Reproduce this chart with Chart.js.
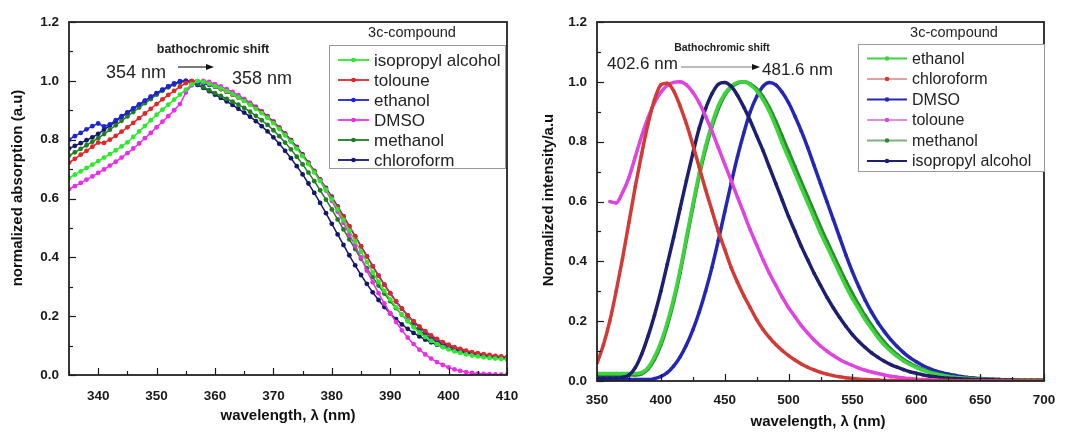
<!DOCTYPE html>
<html><head><meta charset="utf-8">
<script src="https://cdn.jsdelivr.net/npm/chart.js@4.4.1/dist/chart.umd.min.js"></script>
<style>
html,body{margin:0;padding:0;background:#fff;}
#wrap{position:relative;width:1070px;height:434px;overflow:hidden;}
.c{position:absolute;top:0;width:535px;height:434px;}
</style></head><body>
<div id="wrap">
<div class="c" style="left:0"><canvas id="absChart" width="535" height="434"></canvas></div>
<div class="c" style="left:535px"><canvas id="emChart" width="535" height="434"></canvas></div>
</div>
<script>
function range(a,b,s){const r=[];for(let i=0;a+i*s<=b+1e-9;i++)r.push(+(a+i*s).toFixed(3));return r;}

// ---------- Left panel: absorption (335–410 nm, 1 nm steps) ----------
const absWavelength = range(335,410,1);
const absIsopropyl = [0.670,0.681,0.692,0.704,0.715,0.727,0.739,0.751,0.764,0.777,0.791,0.809,0.828,0.847,0.866,0.885,0.902,0.919,0.936,0.953,0.970,0.988,0.999,0.996,0.990,0.982,0.974,0.965,0.955,0.944,0.932,0.919,0.905,0.890,0.874,0.856,0.836,0.815,0.793,0.769,0.744,0.717,0.689,0.660,0.630,0.598,0.563,0.527,0.491,0.455,0.419,0.384,0.350,0.317,0.286,0.257,0.230,0.205,0.182,0.162,0.144,0.129,0.116,0.105,0.095,0.087,0.080,0.075,0.070,0.066,0.063,0.060,0.058,0.056,0.054,0.053];
const absToluene = [0.722,0.735,0.749,0.762,0.776,0.790,0.789,0.800,0.813,0.827,0.842,0.857,0.873,0.889,0.905,0.921,0.937,0.952,0.966,0.980,0.992,1.000,0.999,0.995,0.989,0.981,0.972,0.963,0.953,0.943,0.932,0.920,0.907,0.893,0.877,0.859,0.839,0.818,0.796,0.772,0.747,0.720,0.692,0.663,0.633,0.603,0.571,0.538,0.505,0.471,0.437,0.403,0.370,0.338,0.307,0.278,0.251,0.226,0.203,0.183,0.165,0.149,0.135,0.123,0.112,0.103,0.095,0.089,0.083,0.078,0.074,0.071,0.068,0.065,0.063,0.061];
const absEthanol = [0.800,0.812,0.823,0.835,0.846,0.855,0.845,0.852,0.866,0.880,0.893,0.906,0.920,0.933,0.946,0.958,0.970,0.981,0.991,0.998,1.000,0.998,0.995,0.991,0.986,0.980,0.972,0.963,0.954,0.944,0.933,0.921,0.908,0.894,0.878,0.860,0.840,0.820,0.798,0.775,0.750,0.722,0.694,0.665,0.636,0.606,0.573,0.540,0.506,0.472,0.438,0.404,0.370,0.338,0.307,0.278,0.250,0.225,0.202,0.181,0.162,0.146,0.131,0.118,0.107,0.098,0.090,0.083,0.078,0.073,0.069,0.066,0.063,0.060,0.058,0.056];
const absDMSO = [0.632,0.642,0.653,0.664,0.675,0.687,0.699,0.712,0.725,0.739,0.754,0.770,0.787,0.805,0.823,0.842,0.861,0.880,0.900,0.921,0.960,0.985,0.997,1.000,0.996,0.989,0.981,0.972,0.962,0.951,0.939,0.926,0.912,0.897,0.880,0.862,0.842,0.821,0.798,0.774,0.748,0.720,0.691,0.660,0.627,0.592,0.555,0.517,0.478,0.439,0.400,0.355,0.315,0.278,0.243,0.210,0.180,0.152,0.127,0.105,0.086,0.070,0.056,0.044,0.034,0.026,0.019,0.014,0.010,0.007,0.005,0.004,0.003,0.002,0.001,0.001];
const absMethanol = [0.746,0.757,0.769,0.781,0.793,0.805,0.819,0.834,0.849,0.864,0.879,0.894,0.909,0.924,0.938,0.953,0.966,0.978,0.987,0.994,0.999,0.998,0.990,0.979,0.968,0.958,0.949,0.939,0.929,0.919,0.908,0.895,0.881,0.866,0.850,0.832,0.812,0.790,0.767,0.742,0.716,0.688,0.659,0.628,0.596,0.563,0.529,0.495,0.461,0.428,0.395,0.363,0.333,0.304,0.277,0.251,0.227,0.205,0.185,0.167,0.151,0.137,0.124,0.113,0.104,0.096,0.089,0.083,0.078,0.074,0.070,0.067,0.064,0.062,0.060,0.058];
const absChloroform = [0.770,0.779,0.788,0.798,0.808,0.820,0.834,0.848,0.862,0.877,0.891,0.905,0.918,0.932,0.945,0.957,0.969,0.980,0.990,0.998,1.000,0.995,0.986,0.976,0.965,0.953,0.942,0.930,0.918,0.905,0.892,0.878,0.863,0.846,0.828,0.808,0.786,0.762,0.737,0.710,0.682,0.651,0.619,0.585,0.550,0.514,0.478,0.442,0.407,0.373,0.340,0.310,0.281,0.255,0.231,0.209,0.190,0.172,0.157,0.143,0.131,0.120,0.111,0.103,0.096,0.090,0.085,0.080,0.076,0.072,0.069,0.066,0.063,0.060,0.058,0.056];
const absXTicks = {min:335,max:410,step:10};
const absYTicks = {min:0,max:1.2,step:0.2};

// ---------- Right panel: emission (350–700 nm, 5 nm steps) ----------
const emWavelength = range(350,700,5);
const emEthanol = [0.025,0.025,0.025,0.025,0.025,0.025,0.025,0.028,0.045,0.08,0.13,0.195,0.275,0.37,0.48,0.59,0.695,0.785,0.86,0.92,0.96,0.985,0.998,1.0,0.99,0.97,0.94,0.9,0.85,0.795,0.745,0.695,0.645,0.595,0.545,0.495,0.45,0.405,0.36,0.315,0.275,0.24,0.205,0.175,0.145,0.12,0.1,0.082,0.067,0.055,0.045,0.036,0.029,0.024,0.019,0.015,0.012,0.01,0.008,0.007,0.006,0.005,0.005,0.004,0.004,0.004,0.003,0.003,0.003,0.003,0.003];
const emChloroform = [0.06,0.12,0.2,0.3,0.41,0.53,0.65,0.76,0.86,0.94,0.99,0.995,0.97,0.92,0.86,0.79,0.715,0.64,0.57,0.5,0.44,0.38,0.33,0.285,0.245,0.205,0.172,0.145,0.122,0.102,0.085,0.07,0.057,0.046,0.037,0.029,0.023,0.018,0.014,0.011,0.008,0.006,0.005,0.004,0.003,0.002,0.002,0.001,0.001,0.001,0.001,0.001,0.001,0.001,0.001,0.001,0,0,0,0,0,0,0,0,0,0,0,0,0,0,0];
const emDMSO = [0.005,0.005,0.005,0.005,0.005,0.005,0.005,0.005,0.005,0.008,0.015,0.028,0.05,0.08,0.12,0.17,0.23,0.3,0.38,0.47,0.565,0.66,0.75,0.83,0.9,0.95,0.985,0.998,0.99,0.965,0.93,0.885,0.835,0.78,0.72,0.66,0.6,0.54,0.48,0.42,0.365,0.315,0.27,0.23,0.195,0.165,0.138,0.115,0.095,0.078,0.064,0.052,0.042,0.034,0.028,0.023,0.019,0.015,0.012,0.01,0.008,0.007,0.006,0.005,0.004,0.004,0.003,0.003,0.002,0.002,0.002];
const emToluene = [null,null,0.6,0.595,0.63,0.68,0.75,0.82,0.88,0.93,0.965,0.988,0.998,1.0,0.99,0.965,0.93,0.885,0.835,0.78,0.725,0.67,0.615,0.56,0.505,0.455,0.405,0.36,0.32,0.28,0.245,0.215,0.185,0.16,0.137,0.117,0.1,0.085,0.072,0.061,0.052,0.043,0.036,0.03,0.025,0.02,0.016,0.013,0.01,0.008,0.006,0.005,0.004,0.003,0.002,0.002,0.001,0.001,0.001,0.001,0.001,0.001,0.001,0.001,0.001,0.001,0.001,0.001,0.001,0.001,0.001];
const emMethanol = [0.02,0.02,0.02,0.02,0.02,0.02,0.02,0.024,0.04,0.072,0.12,0.185,0.265,0.36,0.47,0.58,0.685,0.775,0.85,0.91,0.955,0.982,0.996,1.0,0.993,0.976,0.95,0.913,0.868,0.818,0.767,0.716,0.665,0.615,0.565,0.515,0.468,0.422,0.377,0.333,0.292,0.254,0.218,0.186,0.156,0.13,0.107,0.088,0.072,0.059,0.048,0.039,0.031,0.025,0.02,0.016,0.013,0.011,0.009,0.008,0.007,0.006,0.005,0.005,0.004,0.004,0.004,0.003,0.003,0.003,0.003];
const emIsopropyl = [0.01,0.01,0.01,0.01,0.012,0.02,0.045,0.09,0.15,0.22,0.3,0.39,0.48,0.575,0.67,0.76,0.845,0.91,0.96,0.992,0.998,0.985,0.955,0.915,0.87,0.82,0.77,0.715,0.66,0.605,0.55,0.5,0.45,0.405,0.36,0.32,0.28,0.245,0.212,0.182,0.155,0.132,0.112,0.094,0.079,0.066,0.055,0.046,0.038,0.031,0.026,0.021,0.017,0.014,0.011,0.009,0.008,0.007,0.006,0.005,0.005,0.004,0.004,0.003,0.003,0.003,0.002,0.002,0.002,0.002,0.002];
const emXTicks = {min:350,max:700,step:50};
const emYTicks = {min:0,max:1.2,step:0.2};

const FONT = '"Liberation Sans", Arial, sans-serif';
const INK = '#1a1a1a';

function xy(xs, ys){ return xs.map((x,i)=>({x:x, y:(ys[i]===undefined?null:ys[i])})); }

function decor(o){
  return {
    id:'decor_'+o.key,
    afterDatasetsDraw(chart){
      const ctx = chart.ctx, a = chart.chartArea, sx = chart.scales.x, sy = chart.scales.y;
      ctx.save();
      // inward ticks
      ctx.strokeStyle = INK; ctx.lineWidth = 1.2;
      for(let v=o.yt.min; v<=o.yt.max+1e-9; v+=o.yt.step/2){
        const k = Math.round(v/(o.yt.step/2));
        const y = Math.round(sy.getPixelForValue(v))+0.5;
        const L = (k%2===0)?7:4;
        ctx.beginPath(); ctx.moveTo(a.left,y); ctx.lineTo(a.left+L,y); ctx.stroke();
      }
      const x0 = Math.ceil(o.xt.min/(o.xt.step/2))*(o.xt.step/2);
      for(let v=x0; v<=o.xt.max+1e-9; v+=o.xt.step/2){
        const k = Math.round(v/(o.xt.step/2));
        const x = Math.round(sx.getPixelForValue(v))+0.5;
        const L = (k%2===0)?7:4;
        ctx.beginPath(); ctx.moveTo(x,a.bottom); ctx.lineTo(x,a.bottom-L); ctx.stroke();
      }
      // frame
      ctx.lineWidth = 1.8; ctx.strokeStyle = '#222';
      ctx.strokeRect(a.left, a.top, a.right-a.left, a.bottom-a.top);
      // legend
      const lg = o.legend;
      ctx.fillStyle = '#fff';
      ctx.fillRect(lg.x1, lg.y1, lg.x2-lg.x1, lg.y2-lg.y1);
      ctx.strokeStyle = '#999'; ctx.lineWidth = 1;
      ctx.strokeRect(lg.x1+0.5, lg.y1+0.5, lg.x2-lg.x1, lg.y2-lg.y1);
      ctx.fillStyle = '#222'; ctx.font = lg.titleSize+'px '+FONT; ctx.textAlign='center'; ctx.textBaseline='middle';
      ctx.fillText('3c-compound', lg.titleX, lg.titleY);
      ctx.textAlign='left'; ctx.font = lg.itemSize+'px '+FONT;
      lg.items.forEach((it,i)=>{
        const y = lg.rowY + i*lg.rowH;
        ctx.strokeStyle = it.legendColor || it.color; ctx.lineWidth = 1.8;
        ctx.beginPath(); ctx.moveTo(lg.lineX1,y); ctx.lineTo(lg.lineX2,y); ctx.stroke();
        ctx.fillStyle = it.color;
        ctx.beginPath(); ctx.arc((lg.lineX1+lg.lineX2)/2, y, 2.3, 0, Math.PI*2); ctx.fill();
        ctx.fillStyle = '#222';
        ctx.fillText(it.label, lg.textX, y+1);
      });
      // annotations
      const an = o.annot;
      ctx.fillStyle = '#222';
      ctx.font = 'bold '+an.shiftSize+'px '+FONT; ctx.textAlign='center';
      ctx.fillText(an.shiftText, an.shiftX, an.shiftY);
      ctx.font = an.nmSize+'px '+FONT; ctx.textAlign='left';
      ctx.fillText(an.t1, an.t1x, an.t1y);
      ctx.fillText(an.t2, an.t2x, an.t2y);
      ctx.strokeStyle = an.arrowColor; ctx.lineWidth = 1.2;
      ctx.beginPath(); ctx.moveTo(an.ax1, an.ay); ctx.lineTo(an.ax2-6, an.ay); ctx.stroke();
      ctx.fillStyle = '#111';
      ctx.beginPath(); ctx.moveTo(an.ax2, an.ay); ctx.lineTo(an.ax2-8, an.ay-3); ctx.lineTo(an.ax2-8, an.ay+3); ctx.closePath(); ctx.fill();
      // axis titles
      ctx.fillStyle = '#111'; ctx.font = 'bold 15px '+FONT; ctx.textAlign='center';
      ctx.fillText(o.xTitle, o.xTitlePos[0], o.xTitlePos[1]);
      ctx.save();
      ctx.translate(o.yTitlePos[0], o.yTitlePos[1]); ctx.rotate(-Math.PI/2);
      ctx.fillText(o.yTitle, 0, 0);
      ctx.restore();
      ctx.restore();
    }
  };
}

function makeChart(id, o){
  const tickFont = {family:FONT, size:13.5, weight:'bold'};
  return new Chart(document.getElementById(id), {
    type:'line',
    data:{datasets:o.series.map(s=>({
      label:s.label, data:xy(o.xs, s.values),
      borderColor:s.color, backgroundColor:s.color,
      borderWidth:o.lineW, pointRadius:o.pointR, pointHoverRadius:0,
      pointBackgroundColor:s.color, pointBorderWidth:0,
      cubicInterpolationMode:o.smooth?'monotone':'default', tension:0, spanGaps:false, fill:false
    }))},
    options:{
      responsive:false, animation:false, devicePixelRatio:1,
      layout:{padding:{left:0, top:o.pad.top, right:o.pad.right, bottom:0}},
      plugins:{legend:{display:false}, tooltip:{enabled:false}},
      events:[],
      scales:{
        x:{type:'linear', min:o.xt.min, max:o.xt.max,
           ticks:{stepSize:o.xt.step, includeBounds:false, autoSkip:false, maxRotation:0, padding:o.xPad, font:tickFont, color:INK, callback:v=>String(v)},
           grid:{display:false, drawTicks:false}, border:{display:false},
           afterFit(s){ s.height = o.xH; }},
        y:{type:'linear', min:o.yt.min, max:o.yt.max,
           ticks:{stepSize:o.yt.step, autoSkip:false, padding:10, font:tickFont, color:INK, callback:v=>(+v).toFixed(1)},
           grid:{display:false, drawTicks:false}, border:{display:false},
           afterFit(s){ s.width = o.yW; }}
      }
    },
    plugins:[decor(o)]
  });
}

const absSeries = [
  {label:'isopropyl alcohol', values:absIsopropyl, color:'#2ee82e'},
  {label:'toloune', values:absToluene, color:'#e0262a'},
  {label:'ethanol', values:absEthanol, color:'#1e22d8'},
  {label:'DMSO', values:absDMSO, color:'#ea2ee8'},
  {label:'methanol', values:absMethanol, color:'#1f7d22'},
  {label:'chloroform', values:absChloroform, color:'#15186a'}
];
makeChart('absChart', {
  key:'abs', xs:absWavelength, series:absSeries, xt:absXTicks, yt:absYTicks,
  lineW:1.5, pointR:2.4, smooth:false,
  pad:{top:22, right:28}, yW:69, xH:59, xPad:13,
  legend:{x1:329,y1:45,x2:505,y2:168,titleX:412,titleY:33,titleSize:14.5,itemSize:17,rowY:60,rowH:20,lineX1:338,lineX2:369,textX:374,items:absSeries},
  annot:{shiftText:'bathochromic shift', shiftSize:12.5, shiftX:213, shiftY:50, nmSize:18,
         t1:'354 nm', t1x:106, t1y:73, t2:'358 nm', t2x:232, t2y:79, ax1:178, ax2:214, ay:67, arrowColor:'#222'},
  xTitle:'wavelength, λ (nm)', xTitlePos:[288,416],
  yTitle:'normalized absorption (a.u)', yTitlePos:[18,188]
});

const emSeries = [
  {label:'chloroform', values:emChloroform, color:'#d23a36', legendColor:'#e2a0a0'},
  {label:'toloune', values:emToluene, color:'#e044e0', legendColor:'#e08ce0'},
  {label:'isopropyl alcohol', values:emIsopropyl, color:'#1e1f6e'},
  {label:'ethanol', values:emEthanol, color:'#3ed43e'},
  {label:'methanol', values:emMethanol, color:'#2d8a2d', legendColor:'#7fb27f'},
  {label:'DMSO', values:emDMSO, color:'#2426b4'}
];
const emLegendOrder = ['ethanol','chloroform','DMSO','toloune','methanol','isopropyl alcohol'];
makeChart('emChart', {
  key:'em', xs:emWavelength, series:emSeries, xt:emXTicks, yt:emYTicks,
  lineW:3.5, pointR:1.8, smooth:true,
  pad:{top:22, right:26}, yW:62, xH:53, xPad:11,
  legend:{x1:323,y1:44,x2:509,y2:171,titleX:419,titleY:33,titleSize:14.5,itemSize:16,rowY:58.5,rowH:20.5,lineX1:332,lineX2:372,textX:377,
          items:emLegendOrder.map(n=>emSeries.find(s=>s.label===n))},
  annot:{shiftText:'Bathochromic shift', shiftSize:10.5, shiftX:187, shiftY:48, nmSize:17,
         t1:'402.6 nm', t1x:72, t1y:64, t2:'481.6 nm', t2x:227, t2y:70, ax1:146, ax2:225, ay:67, arrowColor:'#777'},
  xTitle:'wavelength, λ (nm)', xTitlePos:[283,422],
  yTitle:'Normalized intensity/a.u', yTitlePos:[14,200]
});
</script>
</body></html>
